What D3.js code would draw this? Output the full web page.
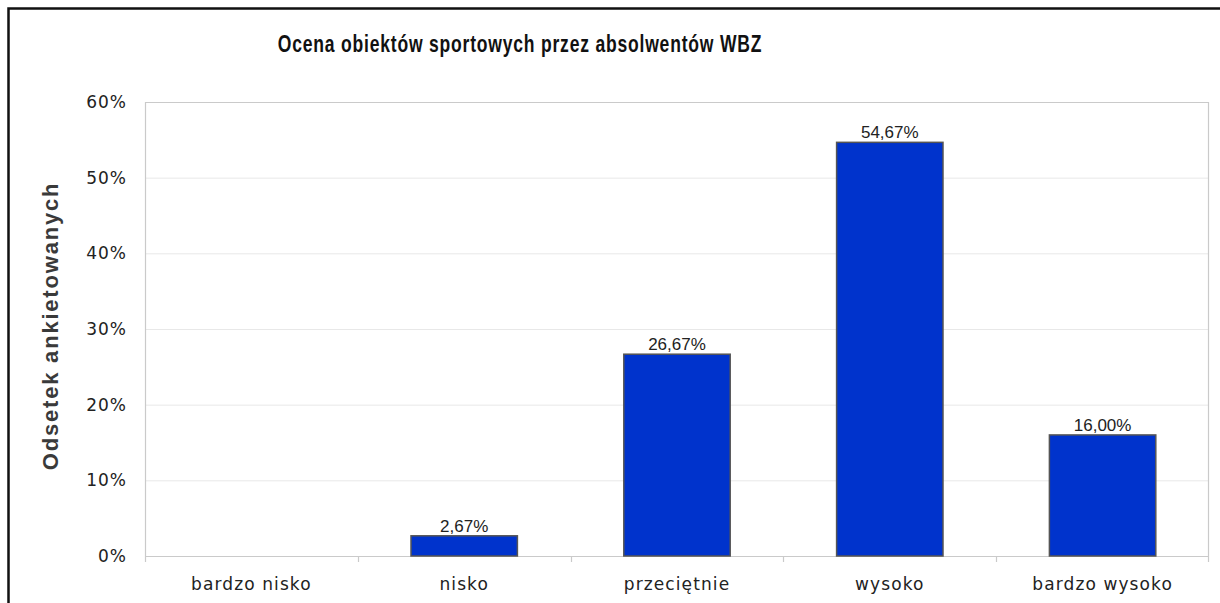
<!DOCTYPE html>
<html>
<head>
<meta charset="utf-8">
<script src="https://cdn.jsdelivr.net/npm/d3@7"></script>
<style>
	body { margin: 0; background: #fff; }
	svg { display: block; }
</style>
</head>
<body>
<script>
'use strict';

// chart data
var categories = ['bardzo nisko', 'nisko', 'przeciętnie', 'wysoko', 'bardzo wysoko'],
	values = [0, 2.67, 26.67, 54.67, 16.00],
	yTicks = [0, 10, 20, 30, 40, 50, 60],
	title = 'Ocena obiektów sportowych przez absolwentów WBZ',
	yTitle = 'Odsetek ankietowanych';

var W = 1220, H = 603,
	margin = {top: 102, right: 11, bottom: 47, left: 145},
	width = W - margin.left - margin.right,
	height = H - margin.top - margin.bottom;

var svg = d3.select('body').append('svg')
	.attr('width', W)
	.attr('height', H);

// outer frame, cut off at right and bottom like the original
svg.append('rect')
	.attr('x', 8.5).attr('y', 8.5)
	.attr('width', 1400).attr('height', 800)
	.attr('fill', 'none')
	.attr('stroke', '#111')
	.attr('stroke-width', 2.5);

var g = svg.append('g')
	.attr('transform', 'translate(' + margin.left + ',' + margin.top + ')');

var x = d3.scaleBand()
	.domain(categories)
	.range([0, width])
	.paddingInner(0.5)
	.paddingOuter(0.25);

var y = d3.scaleLinear()
	.domain([0, 60])
	.range([height, 0]);

// horizontal grid
g.selectAll('.grid')
	.data(yTicks.slice(1, -1)).enter()
	.append('line')
		.attr('class', 'grid')
		.attr('x1', 0).attr('x2', width)
		.attr('y1', function(d) { return y(d) + 0.5; })
		.attr('y2', function(d) { return y(d) + 0.5; })
		.attr('stroke', '#e8e8e8')
		.attr('stroke-width', 1);

// plot frame (top, left, right)
g.append('path')
	.attr('d', 'M0.5,' + (height + 6) + 'V0.5H' + (width - 0.5) + 'V' + (height + 6))
	.attr('fill', 'none')
	.attr('stroke', '#cacaca')
	.attr('stroke-width', 1.2);

// y axis labels
var yAxis = g.append('g')
	.call(d3.axisLeft(y).tickValues(yTicks).tickSize(0).tickPadding(18)
		.tickFormat(function(d) { return d + '%'; }));
yAxis.select('.domain').remove();
yAxis.selectAll('text')
	.attr('font-family', 'DejaVu Sans, Verdana, sans-serif')
	.attr('font-size', 17)
	.attr('letter-spacing', 1)
	.attr('fill', '#222');

// x axis with ticks at band boundaries
var step = x.step();
g.append('line')
	.attr('x1', 0).attr('x2', width)
	.attr('y1', height + 0.5).attr('y2', height + 0.5)
	.attr('stroke', '#cacaca')
	.attr('stroke-width', 1.2);

g.selectAll('.xtick')
	.data(categories.slice(1)).enter()
	.append('line')
		.attr('class', 'xtick')
		.attr('x1', function(d) { return Math.round(x(d) - step * 0.25) + 0.5; })
		.attr('x2', function(d) { return Math.round(x(d) - step * 0.25) + 0.5; })
		.attr('y1', height)
		.attr('y2', height + 6)
		.attr('stroke', '#cacaca')
		.attr('stroke-width', 1.2);

g.selectAll('.xlabel')
	.data(categories).enter()
	.append('text')
		.attr('class', 'xlabel')
		.attr('x', function(d) { return x(d) + x.bandwidth() / 2; })
		.attr('y', height + 34)
		.attr('text-anchor', 'middle')
		.attr('font-family', 'DejaVu Sans, Verdana, sans-serif')
		.attr('font-size', 17)
		.attr('letter-spacing', 1.1)
		.attr('fill', '#222')
		.text(function(d) { return d; });

// bars
g.selectAll('.bar')
	.data(values).enter()
	.append('rect')
		.attr('class', 'bar')
		.attr('x', function(d, i) { return x(categories[i]); })
		.attr('y', function(d) { return y(d); })
		.attr('width', x.bandwidth())
		.attr('height', function(d) { return height - y(d); })
		.attr('fill', '#0033cc')
		.attr('stroke', '#555')
		.attr('stroke-width', 1.5)
		.style('display', function(d) { return d > 0 ? null : 'none'; });

// value labels
g.selectAll('.vlabel')
	.data(values).enter()
	.append('text')
		.attr('class', 'vlabel')
		.attr('x', function(d, i) { return x(categories[i]) + x.bandwidth() / 2; })
		.attr('y', function(d) { return y(d) - 4; })
		.attr('text-anchor', 'middle')
		.attr('font-family', 'Liberation Sans, Arial, sans-serif')
		.attr('font-size', 17)
		.attr('fill', '#222')
		.style('display', function(d) { return d > 0 ? null : 'none'; })
		.text(function(d) { return d.toFixed(2).replace('.', ',') + '%'; });

// titles (title squeezed horizontally, like the original raster)
svg.append('text')
	.attr('transform', 'translate(520,52) scale(0.73,1)')
	.attr('text-anchor', 'middle')
	.attr('font-family', 'Liberation Sans, Arial, sans-serif')
	.attr('font-weight', 'bold')
	.attr('font-size', 24)
	.attr('letter-spacing', 1.1)
	.attr('fill', '#111')
	.text(title);

svg.append('text')
	.attr('transform', 'translate(58,' + 326 + ') rotate(-90)')
	.attr('text-anchor', 'middle')
	.attr('font-family', 'Liberation Sans, Arial, sans-serif')
	.attr('font-weight', 'bold')
	.attr('font-size', 22)
	.attr('letter-spacing', 1.8)
	.attr('fill', '#3a3a3a')
	.text(yTitle);
</script>
</body>
</html>
